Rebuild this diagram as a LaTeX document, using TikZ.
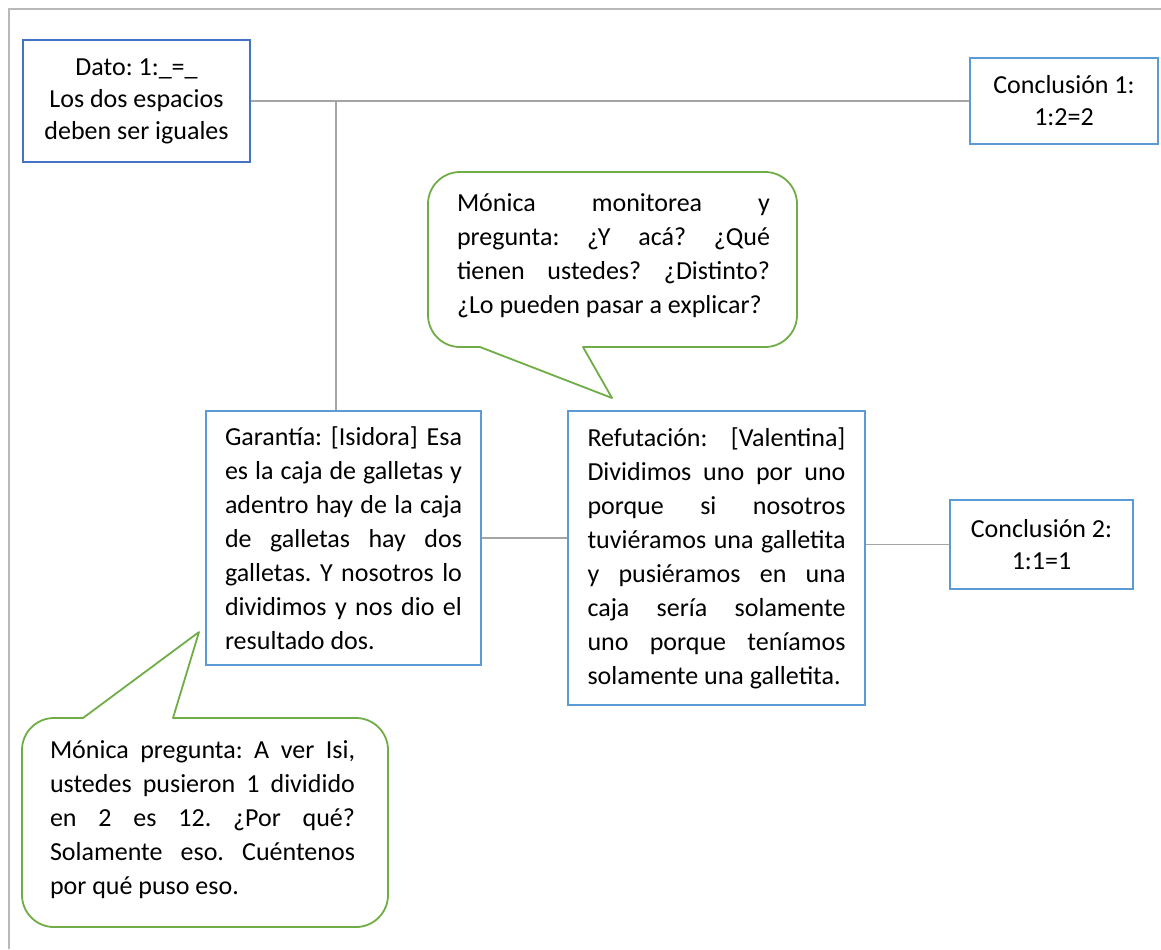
\documentclass[tikz,border=0pt]{standalone}
\usepackage{fontspec}
\setmainfont{Carlito}
\frenchspacing
\definecolor{boxblue}{RGB}{91,155,213}
\definecolor{datoblue}{RGB}{68,114,196}
\definecolor{talkgreen}{RGB}{112,173,71}
\definecolor{linkgray}{RGB}{165,165,165}
\definecolor{framegray}{RGB}{185,185,185}
\tikzset{
  argbox/.style={draw=boxblue, line width=0.9pt, fill=white, inner ysep=0pt},
  centertext/.style={align=center, font=\fontsize{13}{16}\selectfont},
  justtext/.style={align=justify, font=\fontsize{13}{17}\selectfont},
  link/.style={draw=linkgray, line width=0.9pt},
  bubble/.style={draw=talkgreen, line width=0.9pt, line join=round},
}

\begin{document}
\begin{tikzpicture}[x=0.5pt, y=-0.5pt]
\useasboundingbox (0,0) rectangle (1161,949);
\draw [framegray, line width=1.2pt] (9,949) -- (9,9) -- (1161,9);

\node [argbox, centertext, draw=datoblue, minimum width=113.5pt, minimum height=61pt] (dato) at (136.5,101)
  {Dato: 1:\_=\_\\Los dos espacios\\deben ser iguales};
\node [argbox, centertext, minimum width=94pt, minimum height=43pt] (concl1) at (1064,101)
  {Conclusión 1:\\1:2=2};
\node [argbox, centertext, minimum width=91.5pt, minimum height=44.5pt] (concl2) at (1041.5,544.5)
  {Conclusión 2:\\1:1=1};
\node [argbox, justtext, text width=118.5pt, inner xsep=9.5pt, minimum height=127pt] (garantia) at (343.5,538)
  {Garantía: [Isidora] Esa\linebreak es la caja de galletas y\linebreak adentro hay de la caja\linebreak
   de galletas hay dos\linebreak galletas. Y nosotros lo\linebreak dividimos y nos dio el\linebreak resultado dos.};
\node [argbox, justtext, text width=129pt, inner xsep=9.75pt, minimum height=147pt] (refutacion) at (716.5,558)
  {Refutación: [Valentina]\linebreak Dividimos uno por uno\linebreak porque si nosotros\linebreak
   tuviéramos una galletita\linebreak y pusiéramos en una\linebreak caja sería solamente\linebreak
   uno porque teníamos\linebreak solamente una galletita.};

\coordinate (junction) at (336,101);
\draw [link] (dato.east) to (concl1.west);
\draw [link] (junction) to (junction |- garantia.north);
\draw [link] (garantia.east) to (garantia.east -| refutacion.west);
\draw [link] (concl2.west -| refutacion.east) to (concl2.west);

% callouts
\draw [bubble] (612,172) [rounded corners=16pt] -- (797,172) -- (797,347) [sharp corners] -- (583,347)
  -- (612,398) -- (480,347) [rounded corners=16pt] -- (428,347) -- (428,172) -- cycle;
\node [justtext, text width=156.5pt, inner sep=0pt] (askone) at (613.5,256)
  {Mónica monitorea y\linebreak pregunta: ¿Y acá? ¿Qué\linebreak tienen ustedes? ¿Distinto?\linebreak
   ¿Lo pueden pasar a explicar?};

\draw [bubble] (205,718) [rounded corners=16pt] -- (388,718) -- (388,927) -- (22,927) -- (22,718)
  [sharp corners] -- (83,718) -- (199,632) -- (173,718) -- cycle;
\node [justtext, text width=152.5pt, inner sep=0pt] (asktwo) at (202.5,820)
  {Mónica pregunta: A ver Isi,\linebreak ustedes pusieron 1 dividido\linebreak en 2 es 12. ¿Por qué?\linebreak
   Solamente eso. Cuéntenos\linebreak por qué puso eso.};
\end{tikzpicture}
\end{document}
